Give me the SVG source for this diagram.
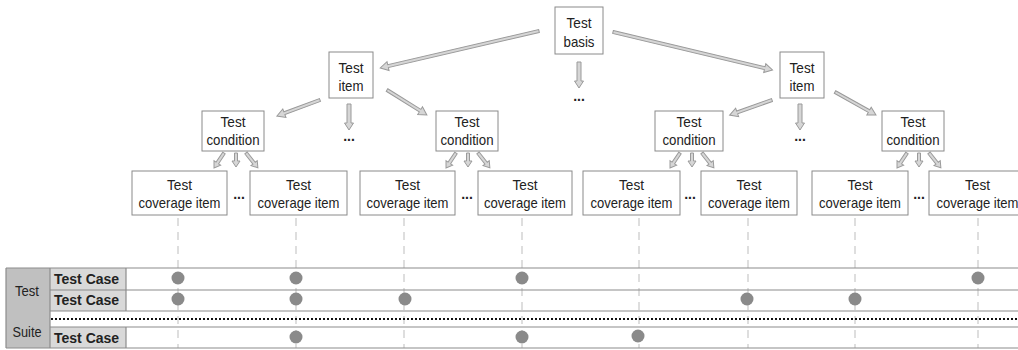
<svg xmlns="http://www.w3.org/2000/svg" xmlns:xlink="http://www.w3.org/1999/xlink" width="1018" height="350" viewBox="0 0 1018 350">
<style>
.box{fill:#fff;stroke:#8a8a8a;stroke-width:1}
.t{font-family:"Liberation Sans",Arial,sans-serif;font-size:15px;fill:#222;text-anchor:middle}
.tb{font-family:"Liberation Sans",Arial,sans-serif;font-size:14px;fill:#222}
.arr{fill:#d6d6d6;stroke:#9a9a9a;stroke-width:1}
.vd{stroke:#bdbdbd;stroke-width:1;stroke-dasharray:8,6;fill:none}
.hl{stroke:#8c8c8c;stroke-width:1.2}
.dot{fill:#8a8a8a}
.dots{font-family:"Liberation Sans",Arial,sans-serif;font-size:14px;fill:#222;text-anchor:middle;font-weight:bold}
</style>
<defs>
<path id="vdown" class="arr" d="M0,-2H19V-4.5L26,0L19,4.5V2H0Z"/>
<g id="tri">
<path class="arr" transform="translate(-12,153) rotate(123.7)" d="M0,-1.5H12V-4L18,0L12,4V1.5H0Z"/>
<path class="arr" transform="translate(0,153) rotate(90)" d="M0,-1.5H8V-4L14,0L8,4V1.5H0Z"/>
<path class="arr" transform="translate(10,153) rotate(51.3)" d="M0,-1.5H13V-4L19,0L13,4V1.5H0Z"/>
</g>
</defs>

<g id="connectors">
<path class="arr" transform="translate(539,31) rotate(166.9)" d="M0,-1.5H155V-4.5L163,0L155,4.5V1.5H0Z"/>
<path class="arr" transform="translate(613,32) rotate(13.4)" d="M0,-1.5H156V-4.5L164,0L156,4.5V1.5H0Z"/>
<use xlink:href="#vdown" transform="translate(579,62) rotate(90)"/>
<path class="arr" transform="translate(320,100) rotate(159.6)" d="M0,-1.5H38V-4.5L46,0L38,4.5V1.5H0Z"/>
<path class="arr" transform="translate(387,90) rotate(32)" d="M0,-1.5H39V-4.5L47,0L39,4.5V1.5H0Z"/>
<use xlink:href="#vdown" transform="translate(349,104) rotate(90)"/>
<path class="arr" transform="translate(772,100) rotate(160.4)" d="M0,-1.5H37V-4.5L45,0L37,4.5V1.5H0Z"/>
<path class="arr" transform="translate(835,92) rotate(29.3)" d="M0,-1.5H39V-4.5L47,0L39,4.5V1.5H0Z"/>
<use xlink:href="#vdown" transform="translate(800,104) rotate(90)"/>
<use xlink:href="#tri" x="236" y="0"/>
<use xlink:href="#tri" x="468" y="0"/>
<use xlink:href="#tri" x="692" y="0"/>
<use xlink:href="#tri" x="919" y="0"/>
<line class="vd" x1="178" y1="218" x2="178" y2="348"/>
<line class="vd" x1="296" y1="218" x2="296" y2="348"/>
<line class="vd" x1="404" y1="218" x2="404" y2="348"/>
<line class="vd" x1="522" y1="218" x2="522" y2="348"/>
<line class="vd" x1="639" y1="218" x2="639" y2="348"/>
<line class="vd" x1="748" y1="218" x2="748" y2="348"/>
<line class="vd" x1="855" y1="218" x2="855" y2="348"/>
<line class="vd" x1="978" y1="218" x2="978" y2="348"/>
</g>

<g id="ellipses">
<text class="dots" x="579" y="101">...</text>
<text class="dots" x="349" y="141">...</text>
<text class="dots" x="800" y="141">...</text>
<text class="dots" x="239" y="199">...</text>
<text class="dots" x="467" y="199">...</text>
<text class="dots" x="690" y="199">...</text>
<text class="dots" x="919" y="199">...</text>
</g>

<g id="basis"><rect class="box" x="555" y="7" width="48" height="47"/><text class="t" x="579" y="28" textLength="25" lengthAdjust="spacingAndGlyphs">Test</text><text class="t" x="579" y="47" textLength="31" lengthAdjust="spacingAndGlyphs">basis</text></g>
<g id="item1"><rect class="box" x="329" y="52" width="44" height="46"/><text class="t" x="351" y="73" textLength="25" lengthAdjust="spacingAndGlyphs">Test</text><text class="t" x="351" y="91" textLength="25" lengthAdjust="spacingAndGlyphs">item</text></g>
<g id="item2"><rect class="box" x="780" y="52" width="44" height="46"/><text class="t" x="802" y="73" textLength="25" lengthAdjust="spacingAndGlyphs">Test</text><text class="t" x="802" y="91" textLength="25" lengthAdjust="spacingAndGlyphs">item</text></g>

<g id="cond1"><rect class="box" x="202" y="111" width="62" height="40"/><text class="t" x="233" y="127" textLength="25" lengthAdjust="spacingAndGlyphs">Test</text><text class="t" x="233" y="145" textLength="53" lengthAdjust="spacingAndGlyphs">condition</text></g>
<g id="cond2"><rect class="box" x="436" y="111" width="62" height="40"/><text class="t" x="467" y="127" textLength="25" lengthAdjust="spacingAndGlyphs">Test</text><text class="t" x="467" y="145" textLength="53" lengthAdjust="spacingAndGlyphs">condition</text></g>
<g id="cond3"><rect class="box" x="655" y="111" width="68" height="40"/><text class="t" x="689" y="127" textLength="25" lengthAdjust="spacingAndGlyphs">Test</text><text class="t" x="689" y="145" textLength="53" lengthAdjust="spacingAndGlyphs">condition</text></g>
<g id="cond4"><rect class="box" x="882" y="111" width="62" height="40"/><text class="t" x="913" y="127" textLength="25" lengthAdjust="spacingAndGlyphs">Test</text><text class="t" x="913" y="145" textLength="53" lengthAdjust="spacingAndGlyphs">condition</text></g>

<g id="cov1"><rect class="box" x="132" y="171" width="95" height="44"/><text class="t" x="179.5" y="190" textLength="25" lengthAdjust="spacingAndGlyphs">Test</text><text class="t" x="179.5" y="208" textLength="82" lengthAdjust="spacingAndGlyphs">coverage item</text></g>
<g id="cov2"><rect class="box" x="250" y="171" width="97" height="44"/><text class="t" x="298.5" y="190" textLength="25" lengthAdjust="spacingAndGlyphs">Test</text><text class="t" x="298.5" y="208" textLength="82" lengthAdjust="spacingAndGlyphs">coverage item</text></g>
<g id="cov3"><rect class="box" x="360" y="171" width="95" height="44"/><text class="t" x="407.5" y="190" textLength="25" lengthAdjust="spacingAndGlyphs">Test</text><text class="t" x="407.5" y="208" textLength="82" lengthAdjust="spacingAndGlyphs">coverage item</text></g>
<g id="cov4"><rect class="box" x="478" y="171" width="94" height="44"/><text class="t" x="525" y="190" textLength="25" lengthAdjust="spacingAndGlyphs">Test</text><text class="t" x="525" y="208" textLength="82" lengthAdjust="spacingAndGlyphs">coverage item</text></g>
<g id="cov5"><rect class="box" x="583" y="171" width="97" height="44"/><text class="t" x="631.5" y="190" textLength="25" lengthAdjust="spacingAndGlyphs">Test</text><text class="t" x="631.5" y="208" textLength="82" lengthAdjust="spacingAndGlyphs">coverage item</text></g>
<g id="cov6"><rect class="box" x="701" y="171" width="96" height="44"/><text class="t" x="749" y="190" textLength="25" lengthAdjust="spacingAndGlyphs">Test</text><text class="t" x="749" y="208" textLength="82" lengthAdjust="spacingAndGlyphs">coverage item</text></g>
<g id="cov7"><rect class="box" x="812" y="171" width="96" height="44"/><text class="t" x="860" y="190" textLength="25" lengthAdjust="spacingAndGlyphs">Test</text><text class="t" x="860" y="208" textLength="82" lengthAdjust="spacingAndGlyphs">coverage item</text></g>
<g id="cov8"><rect class="box" x="929" y="171" width="97" height="44"/><text class="t" x="977.5" y="190" textLength="25" lengthAdjust="spacingAndGlyphs">Test</text><text class="t" x="977.5" y="208" textLength="82" lengthAdjust="spacingAndGlyphs">coverage item</text></g>

<g id="table">
<rect x="6" y="268" width="44" height="80" fill="#c0c0c0"/>
<rect x="50" y="268" width="76" height="22" fill="#d9d9d9"/>
<rect x="50" y="290" width="76" height="21" fill="#d9d9d9"/>
<rect x="50" y="327" width="76" height="21" fill="#d9d9d9"/>
<line class="hl" x1="6" y1="268" x2="1018" y2="268"/>
<line class="hl" x1="50" y1="290" x2="1018" y2="290"/>
<line class="hl" x1="50" y1="311" x2="1018" y2="311"/>
<line class="hl" x1="50" y1="327" x2="1018" y2="327"/>
<line class="hl" x1="6" y1="348" x2="1018" y2="348"/>
<line class="hl" x1="6" y1="268" x2="6" y2="348"/>
<line class="hl" x1="50" y1="268" x2="50" y2="348"/>
<line class="hl" x1="126" y1="268" x2="126" y2="311"/>
<line class="hl" x1="126" y1="327" x2="126" y2="348"/>
<line x1="51" y1="319" x2="1018" y2="319" stroke="#111" stroke-width="2" stroke-dasharray="2,2"/>
<text class="t" x="27" y="296" textLength="24" lengthAdjust="spacingAndGlyphs">Test</text>
<text class="t" x="27" y="337" textLength="29" lengthAdjust="spacingAndGlyphs">Suite</text>
<text class="tb" x="54" y="284" font-weight="bold">Test Case</text>
<text class="tb" x="54" y="305" font-weight="bold">Test Case</text>
<text class="tb" x="54" y="343" font-weight="bold">Test Case</text>
</g>

<g id="marks">
<circle class="dot" cx="178" cy="278" r="6.5"/>
<circle class="dot" cx="296" cy="278" r="6.5"/>
<circle class="dot" cx="522" cy="278" r="6.5"/>
<circle class="dot" cx="978" cy="278" r="6.5"/>
<circle class="dot" cx="178" cy="299" r="6.5"/>
<circle class="dot" cx="296" cy="299" r="6.5"/>
<circle class="dot" cx="405" cy="299" r="6.5"/>
<circle class="dot" cx="747" cy="299" r="6.5"/>
<circle class="dot" cx="855" cy="299" r="6.5"/>
<circle class="dot" cx="296" cy="337" r="6.5"/>
<circle class="dot" cx="522" cy="337" r="6.5"/>
<circle class="dot" cx="638" cy="336" r="6.5"/>
</g>
</svg>
